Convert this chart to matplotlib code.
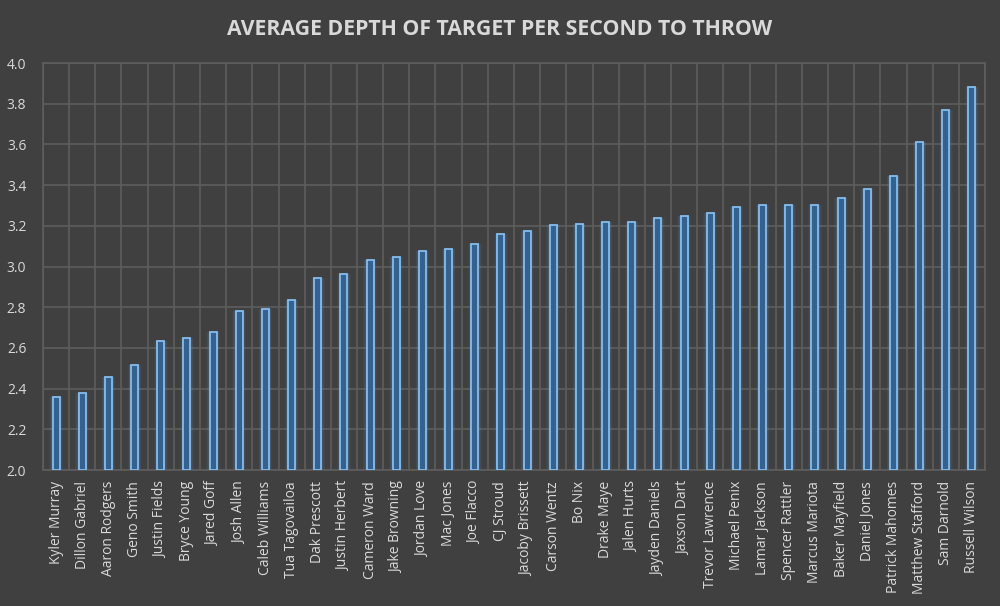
import matplotlib
matplotlib.use("Agg")
import matplotlib.pyplot as plt
import numpy as np

players = ["Kyler Murray", "Dillon Gabriel", "Aaron Rodgers", "Geno Smith", "Justin Fields",
           "Bryce Young", "Jared Goff", "Josh Allen", "Caleb Williams", "Tua Tagovailoa",
           "Dak Prescott", "Justin Herbert", "Cameron Ward", "Jake Browning", "Jordan Love",
           "Mac Jones", "Joe Flacco", "CJ Stroud", "Jacoby Brissett", "Carson Wentz",
           "Bo Nix", "Drake Maye", "Jalen Hurts", "Jayden Daniels", "Jaxson Dart",
           "Trevor Lawrence", "Michael Penix", "Lamar Jackson", "Spencer Rattler", "Marcus Mariota",
           "Baker Mayfield", "Daniel Jones", "Patrick Mahomes", "Matthew Stafford", "Sam Darnold",
           "Russell Wilson"]
values = [2.36, 2.377, 2.458, 2.516, 2.635, 2.65, 2.678, 2.783, 2.793, 2.834,
          2.942, 2.963, 3.032, 3.048, 3.074, 3.088, 3.11, 3.161, 3.173, 3.206,
          3.209, 3.22, 3.22, 3.237, 3.247, 3.261, 3.291, 3.301, 3.301, 3.304,
          3.338, 3.379, 3.445, 3.614, 3.767, 3.884]
yticks = [2.0, 2.2, 2.4, 2.6, 2.8, 3.0, 3.2, 3.4, 3.6, 3.8, 4.0]
title = "AVERAGE DEPTH OF TARGET PER SECOND TO THROW"

bg = "#404040"
txt = "#d9d9d9"
grid = "#5e5e5e"

fig = plt.figure(figsize=(10, 6.06), dpi=100, facecolor=bg)
ax = fig.add_axes([0.043, 0.2244, 0.942, 0.6716], facecolor=bg)

x = np.arange(len(players))
base = yticks[0]
heights = [v - base for v in values]
# glow layers
for w, a in [(0.52, 0.06), (0.46, 0.09), (0.40, 0.13), (0.35, 0.18)]:
    ax.bar(x, heights, bottom=base, width=w, color="#5b9bd5", alpha=a, linewidth=0, zorder=2)
ax.bar(x, heights, bottom=base, width=0.27, color="#35618e", edgecolor="#85bdee",
       linewidth=1.3, zorder=3)

ax.set_xlim(-0.5, len(players) - 0.5)
ax.set_ylim(yticks[0], yticks[-1])
ax.set_yticks(yticks)
ax.set_yticklabels([f"{t:.1f}" for t in yticks], fontfamily="Open Sans", fontsize=10, color=txt)
ax.set_xticks(x)
ax.set_xticklabels(players, rotation=90, fontfamily="Open Sans", fontsize=10, color=txt)
ax.set_xticks(np.arange(len(players) + 1) - 0.5, minor=True)
ax.tick_params(axis="both", which="both", length=0)
ax.tick_params(axis="y", pad=12)
ax.tick_params(axis="x", pad=8)
ax.grid(axis="y", which="major", color=grid, linewidth=1.2, zorder=0)
ax.grid(axis="x", which="minor", color=grid, linewidth=1.2, zorder=0)
ax.set_axisbelow(True)
for s in ["top", "right", "left", "bottom"]:
    ax.spines[s].set_color(grid)
    ax.spines[s].set_linewidth(1.2)

fig.text(0.5, 0.951, title, ha="center", va="center", fontfamily="Open Sans",
         fontweight="bold", fontsize=15.3, color=txt)

fig.savefig("out.png", dpi=100, facecolor=bg)
